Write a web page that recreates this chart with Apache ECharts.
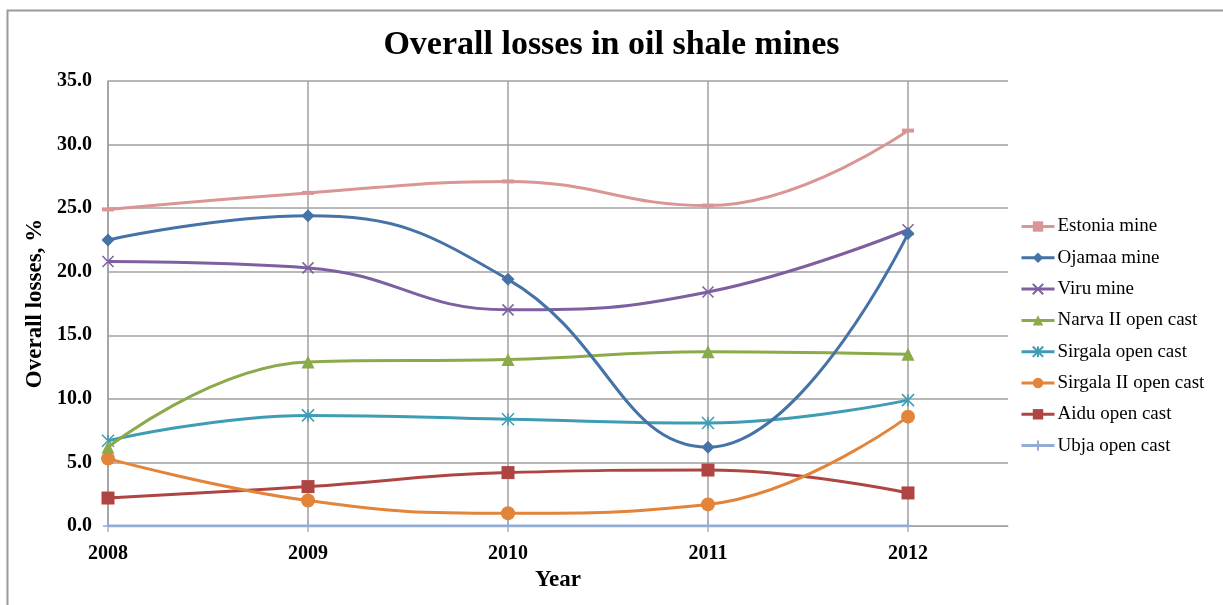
<!DOCTYPE html>
<html>
<head>
<meta charset="utf-8">
<script src="https://cdn.jsdelivr.net/npm/echarts@6/dist/echarts.min.js"></script>
<style>html,body{margin:0;padding:0;background:#fff}#c{width:1223px;height:605px}</style>
</head>
<body>
<div id="c"></div>
<script>
const years = [2008, 2009, 2010, 2011, 2012];
const yTicks = [0, 5, 10, 15, 20, 25, 30, 35];
const seriesNames = ['Estonia mine','Ojamaa mine','Viru mine','Narva II open cast','Sirgala open cast','Sirgala II open cast','Aidu open cast','Ubja open cast'];
const estonia   = [24.9, 26.2, 27.1, 25.2, 31.1];
const ojamaa    = [22.5, 24.4, 19.4, 6.2, 23.0];
const viru      = [20.8, 20.3, 17.0, 18.4, 23.3];
const narva     = [6.2, 12.9, 13.1, 13.7, 13.5];
const sirgala   = [6.7, 8.7, 8.4, 8.1, 9.9];
const sirgala2  = [5.3, 2.0, 1.0, 1.7, 8.6];
const aidu      = [2.2, 3.1, 4.2, 4.4, 2.6];
const ubja      = [0, 0, 0, 0, 0];

const values = [estonia, ojamaa, viru, narva, sirgala, sirgala2, aidu, ubja];
const colors = ['#D99694','#4572A7','#7E5F9F','#8BAA4A','#3E9DB4','#E2843A','#AE4542','#93ACD3'];
const symbols = [
  'rect','diamond','path://M0,0L10,10M10,0L0,10','triangle',
  'path://M0,0L10,10M10,0L0,10M5,0L5,10','circle','rect','path://M5,0L5,10M0,5L10,5'
];
const sizes = [[12,4], 13, 11, 13, 12, 14, 13, [10,12]];
const serif = 'Liberation Serif';

const series = seriesNames.map((n, i) => ({
  name: n,
  type: 'line',
  smooth: 0.45,
  data: years.map((y, j) => [y, values[i][j]]),
  symbol: symbols[i],
  symbolSize: sizes[i],
  showSymbol: true,
  lineStyle: { color: colors[i], width: 3 },
  itemStyle: { color: colors[i], borderColor: colors[i], borderWidth: (i===2||i===4||i===7) ? 1.5 : 0 },
  emphasis: { disabled: true },
  z: 10 - i
}));

const chart = echarts.init(document.getElementById('c'));
chart.setOption({
  animation: false,
  backgroundColor: '#fff',
  graphic: [{
    type: 'rect', silent: true, z: -1,
    shape: { x: 7.5, y: 10.5, width: 1400, height: 800 },
    style: { fill: 'none', stroke: '#9a9a9a', lineWidth: 2 }
  }],
  title: {
    text: 'Overall losses in oil shale mines',
    left: 'center', top: 23,
    textStyle: { fontFamily: serif, fontWeight: 'bold', fontSize: 34, color: '#000' }
  },
  legend: {
    orient: 'vertical', left: 1020, top: 217, padding: 0,
    itemWidth: 33, itemHeight: 13, itemGap: 12.3,
    data: seriesNames,
    lineStyle: { width: 3 },
    textStyle: { fontFamily: serif, fontSize: 19, color: '#000', padding: [0, 0, 0, -2] }
  },
  grid: { left: 108, right: 215, top: 81, bottom: 79, containLabel: false },
  xAxis: {
    type: 'value', min: 2008, max: 2012.5, interval: 1,
    name: 'Year', nameLocation: 'middle', nameGap: 43,
    nameTextStyle: { fontFamily: serif, fontWeight: 'bold', fontSize: 23, color: '#000' },
    axisLine: { show: true, lineStyle: { color: '#a0a0a0', width: 1 } },
    axisTick: { show: false },
    axisLabel: { margin: 18, fontFamily: serif, fontWeight: 'bold', fontSize: 20, color: '#000',
      formatter: v => (Number.isInteger(v) ? String(v) : '') },
    splitLine: { show: true, showMaxLine: false, lineStyle: { color: '#a0a0a0', width: 1.5 } }
  },
  yAxis: {
    type: 'value', min: yTicks[0], max: yTicks[yTicks.length-1], interval: 5,
    name: 'Overall losses, %', nameLocation: 'middle', nameGap: 48,
    nameTextStyle: { fontFamily: serif, fontWeight: 'bold', fontSize: 23, color: '#000' },
    axisLine: { show: true, lineStyle: { color: '#a0a0a0', width: 1.5 } },
    axisTick: { show: false },
    axisLabel: { margin: 16, fontFamily: serif, fontWeight: 'bold', fontSize: 20, color: '#000',
      formatter: v => v.toFixed(1) },
    splitLine: { show: true, lineStyle: { color: '#a0a0a0', width: 1.5 } }
  },
  series: series
});
</script>
</body>
</html>
